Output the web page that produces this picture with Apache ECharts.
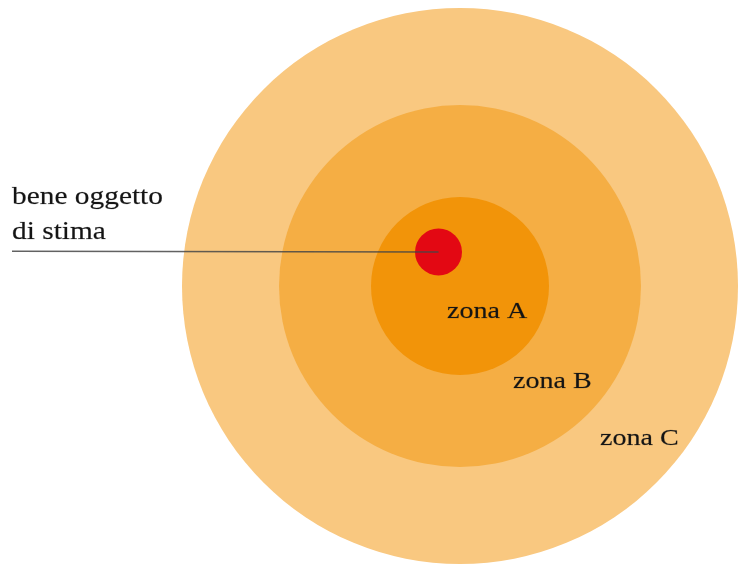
<!DOCTYPE html>
<html><head><meta charset="utf-8">
<script src="https://cdn.jsdelivr.net/npm/echarts@6/dist/echarts.min.js"></script>
<style>html,body{margin:0;padding:0;background:#fff}#c{width:738px;height:564px}</style>
</head><body><div id="c"></div>
<script>
// ---- data ----
const zones = ['zona A', 'zona B', 'zona C'];
const zoneRadius = [89, 181, 278];
const zoneCenter = [460, 286];
const subjectLabel = ['bene oggetto', 'di stima'];
const subjectPoint = [438.5, 252];
const subjectRadius = [23.5];

// ---- styles / layout ----
const zoneColors = ['#F29409', '#F5AE44', '#F9C880'];
const subjectColor = '#E30813';
const zoneLabelAt = [[447, 317], [513, 387], [600, 444]];
const subjectLabelAt = [[12, 203], [12, 238]];
const leaderStartX = 12;
const FONT = '"Liberation Serif", "Times New Roman", serif';

const chart = echarts.init(document.getElementById('c'), null, {renderer: 'canvas'});

// zones drawn largest first
const zoneData = zones.map((z, i) => [zoneCenter[0], zoneCenter[1], zoneRadius[i], i]).reverse();

function textEl(api, pos, txt, size, sx) {
  const p = api.coord([pos[0], pos[1] - 0.22 * size]);
  return {
    type: 'text', x: p[0], y: p[1], scaleX: sx, scaleY: 1,
    style: {text: txt, x: 0, y: 0, font: size + 'px ' + FONT, fill: '#141414', align: 'left', verticalAlign: 'middle',
            stroke: 'rgba(20,20,20,0.35)', lineWidth: 0.5}
  };
}

chart.setOption({
  animation: false,
  grid: {left: 0, right: 0, top: 0, bottom: 0},
  xAxis: {type: 'value', min: 0, max: 738, show: false},
  yAxis: {type: 'value', min: 0, max: 564, inverse: true, show: false},
  series: [
    {
      type: 'custom', clip: false, z: 1,
      data: zoneData,
      renderItem: function (params, api) {
        const c = api.coord([api.value(0), api.value(1)]);
        const r = api.size([api.value(2), 0])[0];
        return {type: 'circle', shape: {cx: c[0], cy: c[1], r: r}, style: {fill: zoneColors[api.value(3)]}};
      }
    },
    {
      type: 'custom', clip: false, z: 2,
      data: [[subjectPoint[0], subjectPoint[1], subjectRadius[0]]],
      renderItem: function (params, api) {
        const c = api.coord([api.value(0), api.value(1)]);
        const r = api.size([api.value(2), 0])[0];
        const s = api.coord([leaderStartX, api.value(1) - 0.8]);
        return {type: 'group', children: [
          {type: 'circle', shape: {cx: c[0], cy: c[1], r: r}, style: {fill: subjectColor}},
          {type: 'line', shape: {x1: s[0], y1: s[1], x2: c[0], y2: c[1]}, style: {stroke: 'rgba(70,70,70,0.85)', lineWidth: 1.4}}
        ]};
      }
    },
    {
      type: 'custom', clip: false, z: 3,
      data: zones.map((z, i) => [zoneLabelAt[i][0], zoneLabelAt[i][1], i]),
      renderItem: function (params, api) {
        const i = api.value(2);
        return textEl(api, [api.value(0), api.value(1)], zones[i], 23, 1.22);
      }
    },
    {
      type: 'custom', clip: false, z: 3,
      data: subjectLabel.map((t, i) => [subjectLabelAt[i][0], subjectLabelAt[i][1], i]),
      renderItem: function (params, api) {
        const i = api.value(2);
        return textEl(api, [api.value(0), api.value(1)], subjectLabel[i], 26, 1.13);
      }
    }
  ]
});
</script>
</body></html>
